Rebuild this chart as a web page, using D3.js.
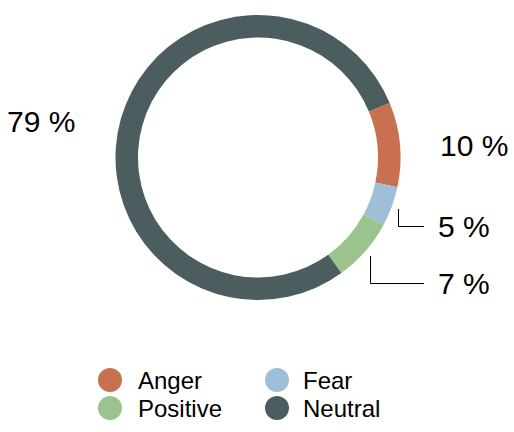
<!DOCTYPE html>
<html>
<head>
<meta charset="utf-8">
<script src="https://cdn.jsdelivr.net/npm/d3@7"></script>
<style>
  body { margin: 0; background: #fff; }
  text { font-family: "Liberation Sans", Arial, Helvetica, sans-serif; fill: #000; }
</style>
</head>
<body>
<svg id="chart" width="514" height="432"></svg>
<script>
let categories = ['Anger', 'Fear', 'Positive', 'Neutral']
let values = [9.6, 4.5, 7.2, 78.7]
let colors = ['#c8704f', '#9fbfd9', '#9cc38e', '#4b5d5f']

let svg = d3.select('#chart')
let cx = 258, cy = 157.5, outer = 142.5, inner = 120

let pie = d3.pie().sort(null).value(d => d.value)
  .startAngle(67.5 * Math.PI / 180)
  .endAngle((67.5 + 360) * Math.PI / 180)
let arc = d3.arc().innerRadius(inner).outerRadius(outer)

let data = categories.map((c, i) => ({ name: c, value: values[i], color: colors[i] }))
let arcs = pie(data)

let g = svg.append('g').attr('transform', `translate(${cx},${cy})`)
g.selectAll('path')
  .data(arcs)
  .enter().append('path')
    .attr('d', arc)
    .attr('fill', d => d.data.color)

let fmt = v => Math.round(v) + ' %'

// label placement, per category (in svg coordinates)
let labelPos = {
  Anger: { x: 440, y: 156 },
  Fear: { x: 438, y: 237 },
  Positive: { x: 438, y: 294 },
  Neutral: { x: 7, y: 132 }
}

svg.selectAll('text.pct')
  .data(arcs)
  .enter().append('text')
    .attr('class', 'pct')
    .attr('x', d => labelPos[d.data.name].x)
    .attr('y', d => labelPos[d.data.name].y)
    .attr('font-size', 30)
    .text(d => fmt(d.data.value))

// leader lines for the small slices
let leaders = arcs.filter(d => d.data.name === 'Fear' || d.data.name === 'Positive')
svg.selectAll('path.leader')
  .data(leaders)
  .enter().append('path')
    .attr('class', 'leader')
    .attr('fill', 'none')
    .attr('stroke', '#000')
    .attr('stroke-width', 1)
    .attr('d', d => {
      let a = (d.startAngle + d.endAngle) / 2
      let r = outer + 7
      let x0 = Math.round(cx + r * Math.sin(a)) + 0.5, y0 = cy - r * Math.cos(a)
      let yEnd = labelPos[d.data.name].y - 10.5
      return `M${x0},${y0}V${yEnd}H424`
    })

// legend
let legend = svg.append('g')
let lx = [110, 277], tx = [138, 303], ly = [380, 408]
let items = legend.selectAll('g')
  .data(data)
  .enter().append('g')
    .attr('transform', (d, i) => `translate(0,${ly[Math.floor(i / 2)]})`)
items.append('circle')
  .attr('cx', (d, i) => lx[i % 2])
  .attr('cy', 0)
  .attr('r', 12)
  .attr('fill', d => d.color)
items.append('text')
  .attr('x', (d, i) => tx[i % 2])
  .attr('y', 9)
  .attr('font-size', 24)
  .text(d => d.name)
</script>
</body>
</html>
